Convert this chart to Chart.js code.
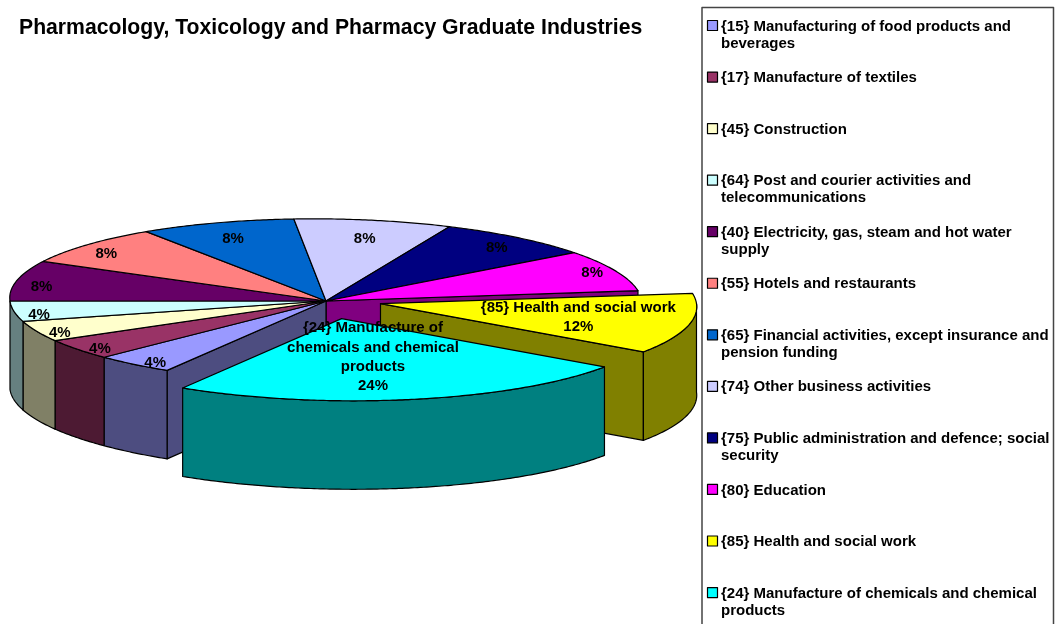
<!DOCTYPE html>
<html>
<head>
<meta charset="utf-8">
<style>html,body{margin:0;padding:0;background:#fff}canvas{display:block}</style>
<script src="https://cdn.jsdelivr.net/npm/chart.js@4"></script>
</head>
<body>
<canvas id="c" width="1056" height="624"></canvas>
<script>
const chartTitle = 'Pharmacology, Toxicology and Pharmacy Graduate Industries';
const categories = [
  '{15} Manufacturing of food products and beverages',
  '{17} Manufacture of textiles',
  '{45} Construction',
  '{64} Post and courier activities and telecommunications',
  '{40} Electricity, gas, steam and hot water supply',
  '{55} Hotels and restaurants',
  '{65} Financial activities, except insurance and pension funding',
  '{74} Other business activities',
  '{75} Public administration and defence; social security',
  '{80} Education',
  '{85} Health and social work',
  '{24} Manufacture of chemicals and chemical products'
];
const shares = [4, 4, 4, 4, 8, 8, 8, 8, 8, 8, 12, 24];
const topColors = ['#9999FF','#993366','#FFFFCC','#CCFFFF','#660066','#FF8080','#0066CC','#CCCCFF','#000080','#FF00FF','#FFFF00','#00FFFF'];
const wallColors = ['#4D4D80','#4D1A33','#808066','#668080','#330033','#804040','#003366','#666680','#000040','#800080','#808000','#008080'];
const explodePx = [0,0,0,0,0,0,0,0,0,0,55,69];
const explodeTurn = [0,0,0,0,0,0,0,0,0,0,-4,0];
const labelRadius = [.89,.91,.92,.92,.92,.92,.85,.82,.89,.92,.64,.44];
const labelDy = [6,4,4,4,5,5,4,4,3,0,0.5,3];
const namedLabels = [false,false,false,false,false,false,false,false,false,false,true,true];

const CX = 326, CY = 301, R = 316, SY = 0.26, SKEW = 0.15, DEPTH = 88.5;
const LABEL_FONT = 'bold 15px "Liberation Sans", Arial, sans-serif';

function wrap(ctx, text, maxW) {
  const out = []; let line = '';
  for (const w of text.split(' ')) {
    const t = line ? line + ' ' + w : w;
    if (ctx.measureText(t).width > maxW && line) { out.push(line); line = w; } else line = t;
  }
  if (line) out.push(line);
  return out;
}

const pie3d = {
  id: 'pie3d',
  beforeDatasetDraw() { return false; },
  afterDatasetsDraw(chart) {
    const ctx = chart.ctx, arcs = chart.getDatasetMeta(0).data;
    const ks = SKEW * SY;
    const offs = i => {
      const a = arcs[i], m = (a.startAngle + a.endAngle) / 2 + explodeTurn[i] * Math.PI / 180;
      return [Math.cos(m) * explodePx[i], Math.sin(m) * explodePx[i]];
    };
    const P = (i, ang, r) => {
      const [ox, oy] = offs(i);
      const x = ox + Math.cos(ang) * r, y = oy + Math.sin(ang) * r;
      return [CX + x + ks * y, CY + SY * y];
    };
    const poly = (pts, fill) => {
      ctx.beginPath();
      pts.forEach((p, n) => n ? ctx.lineTo(p[0], p[1]) : ctx.moveTo(p[0], p[1]));
      ctx.closePath();
      if (fill) { ctx.fillStyle = fill; ctx.fill(); }
      ctx.lineWidth = 1.2; ctx.strokeStyle = '#000'; ctx.lineJoin = 'round'; ctx.stroke();
    };
    const outerWall = i => {
      const a = arcs[i], T = Math.PI * 2;
      for (const base of [0, T]) {
        const lo = Math.max(a.startAngle, base), hi = Math.min(a.endAngle, base + Math.PI);
        if (hi <= lo) continue;
        const top = [], n = Math.ceil((hi - lo) / 0.01);
        for (let k = 0; k <= n; k++) top.push(P(i, lo + (hi - lo) * k / n, a.outerRadius));
        const bottom = top.map(p => [p[0], p[1] + DEPTH]).reverse();
        poly(top.concat(bottom), wallColors[i]);
      }
    };
    const cutFace = (i, ang) => {
      const c = P(i, 0, 0), e = P(i, ang, arcs[i].outerRadius);
      poly([c, e, [e[0], e[1] + DEPTH], [c[0], c[1] + DEPTH]], wallColors[i]);
    };
    const topFace = i => {
      const a = arcs[i], [ox, oy] = offs(i);
      ctx.save();
      ctx.translate(CX, CY);
      ctx.transform(1, 0, ks, SY, 0, 0);
      ctx.translate(ox - a.x, oy - a.y);
      a.draw(ctx);
      ctx.restore();
      const pts = [P(i, 0, 0)], n = Math.ceil((a.endAngle - a.startAngle) / 0.01);
      for (let k = 0; k <= n; k++) pts.push(P(i, a.startAngle + (a.endAngle - a.startAngle) * k / n, a.outerRadius));
      poly(pts);
    };

    // main body
    cutFace(9, arcs[9].endAngle);
    cutFace(0, arcs[0].startAngle);
    for (let i = 0; i < 10; i++) outerWall(i);
    for (let i = 0; i < 10; i++) topFace(i);
    // exploded slices
    cutFace(10, arcs[10].endAngle);
    outerWall(10);
    topFace(10);
    outerWall(11);
    topFace(11);

    // data labels
    ctx.font = LABEL_FONT;
    ctx.fillStyle = '#000';
    ctx.textAlign = 'center';
    ctx.textBaseline = 'middle';
    arcs.forEach((a, i) => {
      const m = (a.startAngle + a.endAngle) / 2;
      const p = P(i, m, a.outerRadius * labelRadius[i]);
      const pct = Math.round(shares[i] / shares.reduce((s, v) => s + v, 0) * 100) + '%';
      const lines = namedLabels[i] ? wrap(ctx, categories[i], 205).concat(pct) : [pct];
      const lh = 19.3;
      lines.forEach((t, n) => ctx.fillText(t, p[0], p[1] + labelDy[i] + (n - (lines.length - 1) / 2) * lh));
    });

    // legend panel
    ctx.strokeStyle = '#444'; ctx.lineWidth = 1.5;
    ctx.strokeRect(702, 7.5, 351.5, 620);
    ctx.textAlign = 'left';
    categories.forEach((t, i) => {
      const y = 26 + i * 51.55;
      ctx.fillStyle = topColors[i];
      ctx.fillRect(707.5, y - 5.5, 10, 10);
      ctx.strokeStyle = '#000'; ctx.lineWidth = 1.2;
      ctx.strokeRect(707.5, y - 5.5, 10, 10);
      ctx.fillStyle = '#000';
      wrap(ctx, t, 332).forEach((l, n) => ctx.fillText(l, 721, y + 0.5 + n * 17));
    });
  }
};

new Chart(document.getElementById('c'), {
  type: 'pie',
  data: {
    labels: categories,
    datasets: [{ data: shares, backgroundColor: topColors, borderWidth: 0 }]
  },
  options: {
    responsive: false,
    animation: false,
    rotation: 212.4,
    radius: R,
    layout: { padding: { left: 19, top: 15 } },
    plugins: {
      legend: { display: false },
      tooltip: { enabled: false },
      title: {
        display: true, text: chartTitle, align: 'start', color: '#000',
        font: { family: '"Liberation Sans", Arial, sans-serif', size: 21.2, weight: 'bold' },
        padding: 0
      }
    }
  },
  plugins: [pie3d]
});
</script>
</body>
</html>
